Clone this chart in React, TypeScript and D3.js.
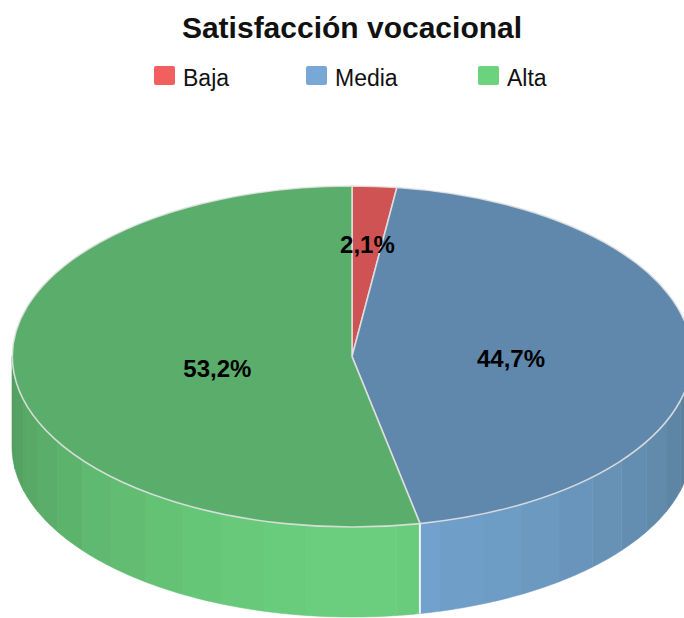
import React from "react";
import * as d3 from "d3";

const categories = ["Baja", "Media", "Alta"];
const values = [2.1, 44.7, 53.2];
const valueLabels = ["2,1%", "44,7%", "53,2%"];
const topColors = ["#d05353", "#6088ad", "#5bad6b"];
const sideLight = ["#e06262", "#72a3cf", "#6bcf7e"];
const sideDark = ["#a84343", "#577a95", "#4f9a5c"];
const legendColors = ["#f25f5f", "#79a8d7", "#6bd37e"];

const W = 684;
const H = 618;
const cx = 352;
const cy = 356.5;
const rx = 340;
const ry = 170.5;
const depth = 90;
const labelK = [0.687, 0.468, 0.398];
const legendX = [154, 306, 478];

const pt = (a: number, dy = 0): [number, number] => [cx + rx * Math.sin(a), cy - ry * Math.cos(a) + dy];

export default function App() {
  const pie = d3.pie<number>().sort(null).value((d) => d)(values);
  const arc = d3.arc<d3.PieArcDatum<number>>().innerRadius(0).outerRadius(1);
  const band = Math.PI / 24;

  const sides: { d: string; fill: string; key: string }[] = [];
  pie.forEach((s, i) => {
    const a0 = Math.max(s.startAngle, Math.PI / 2);
    const a1 = Math.min(s.endAngle, (3 * Math.PI) / 2);
    if (a1 <= a0) return;
    const kStart = Math.floor(a0 / band);
    const kEnd = Math.ceil(a1 / band);
    for (let k = kStart; k < kEnd; k++) {
      const b0 = Math.max(a0, k * band);
      const b1 = Math.min(a1, (k + 1) * band);
      if (b1 <= b0) continue;
      const mid = (k + 0.5) * band;
      const t = Math.min(1, Math.abs(mid - Math.PI) / (Math.PI / 2));
      const fill = d3.interpolateRgb(sideLight[i], sideDark[i])(Math.pow(t, 1.4));
      const steps = d3.range(0, 9).map((j) => b0 + ((b1 - b0) * j) / 8);
      const top = steps.map((a) => pt(a));
      const bot = steps.slice().reverse().map((a) => pt(a, depth));
      const path = d3.line()([...top, ...bot]) + "Z";
      sides.push({ d: path, fill, key: `${i}-${k}` });
    }
  });

  // boundary lines on the side
  const sideEdges = pie
    .map((s) => s.startAngle)
    .filter((a) => a > Math.PI / 2 && a < (3 * Math.PI) / 2)
    .map((a) => [pt(a), pt(a, depth)]);

  return (
    <svg width={W} height={H} style={{ position: "absolute", left: 0, top: 0, background: "#fff" }}>
      <text x={352} y={38} textAnchor="middle" fontFamily="'Liberation Sans', Arial, sans-serif" fontWeight="bold" fontSize={30} fill="#111">
        Satisfacción vocacional
      </text>
      {categories.map((c, i) => (
        <g key={c}>
          <rect x={legendX[i]} y={66} width={21} height={19} rx={2} fill={legendColors[i]} />
          <text x={legendX[i] + 29} y={86} fontFamily="'Liberation Sans', Arial, sans-serif" fontSize={23} fill="#111">
            {c}
          </text>
        </g>
      ))}
      <g>
        {sides.map((s) => (
          <path key={s.key} d={s.d} fill={s.fill} stroke={s.fill} strokeWidth={0.6} />
        ))}
        {sideEdges.map((e, i) => (
          <line key={i} x1={e[0][0]} y1={e[0][1]} x2={e[1][0]} y2={e[1][1]} stroke="#f2f2f2" strokeWidth={2} />
        ))}
      </g>
      <g transform={`translate(${cx},${cy}) scale(${rx},${ry})`}>
        {pie.map((s, i) => (
          <path
            key={i}
            d={arc(s) || ""}
            fill={topColors[i]}
            stroke="#e4e4e4"
            strokeWidth={1.6}
            strokeOpacity={0.85}
            vectorEffect="non-scaling-stroke"
          />
        ))}
      </g>
      {pie.map((s, i) => {
        const m = (s.startAngle + s.endAngle) / 2;
        const x = cx + rx * labelK[i] * Math.sin(m);
        const y = cy + 5 - ry * labelK[i] * Math.cos(m);
        return (
          <text
            key={i}
            x={x}
            y={y}
            dy="0.36em"
            textAnchor="middle"
            fontFamily="'Liberation Sans', Arial, sans-serif"
            fontWeight="bold"
            fontSize={24}
            fill="#000"
          >
            {valueLabels[i]}
          </text>
        );
      })}
    </svg>
  );
}
